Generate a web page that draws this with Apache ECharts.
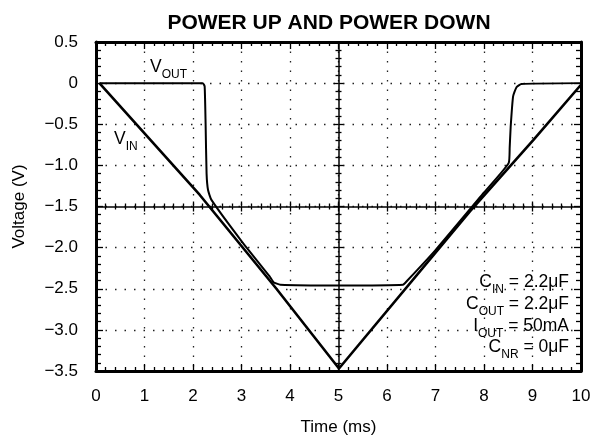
<!DOCTYPE html>
<html>
<head>
<meta charset="utf-8">
<script src="https://cdn.jsdelivr.net/npm/echarts@6/dist/echarts.min.js"></script>
<style>
  html, body { margin: 0; padding: 0; background: #fff; }
  #chart { width: 595px; height: 437px; }
</style>
</head>
<body>
<div id="chart"></div>
<script>
// data
var xTicks = [0, 1, 2, 3, 4, 5, 6, 7, 8, 9, 10];
var yTicks = [0.5, 0, -0.5, -1.0, -1.5, -2.0, -2.5, -3.0, -3.5];

var vinTime = [0.07, 2.14, 3.72, 5.01, 7.71, 9.02, 10.0];
var vinVolt = [0, -1.36, -2.5, -3.47, -1.56, -0.69, -0.02];

var voutTime = [0.07, 2.2, 2.24, 2.26, 2.28, 2.31, 2.38, 3.0, 3.58, 3.66, 3.8, 5.0, 6.33, 6.42, 7.0, 8.0, 8.51, 8.53, 8.55, 8.6, 8.67, 8.77, 10.0];
var voutVolt = [0, 0, -0.04, -0.5, -1.1, -1.3, -1.42, -1.92, -2.35, -2.42, -2.45, -2.46, -2.45, -2.4, -2.03, -1.33, -0.97, -0.78, -0.53, -0.16, -0.05, -0.01, 0];

var notes = [
  ['C', 'IN', ' = 2.2\u03bcF'],
  ['C', 'OUT', ' = 2.2\u03bcF'],
  ['I', 'OUT', ' = 50mA'],
  ['C', 'NR', ' = 0\u03bcF']
];

function pairs(xs, ys) {
  return xs.map(function (x, i) { return [x, ys[i]]; });
}

var FONT = '"Liberation Sans", Arial, Helvetica, sans-serif';
var dotted = { color: '#222', width: 1.3, type: [1.5, 8] };

function yFmt(v) {
  if (Math.abs(v) < 1e-9) return '0';
  return v.toFixed(1).replace('-', '\u2212');
}

// x axes: bottom (labels), top edge, and the centre line (ticks both ways)
function xAx(extra) {
  return Object.assign({
    type: 'value', min: 0, max: 10, interval: 1,
    axisLine: { show: true, onZero: false, lineStyle: { color: '#000', width: 3 } },
    axisTick: { show: true, inside: true, length: 7, lineStyle: { color: '#000', width: 1.3 } },
    minorTick: { show: true, splitNumber: 5, length: 4, lineStyle: { color: '#000', width: 1.3 } },
    axisLabel: { show: false },
    splitLine: { show: false }
  }, extra);
}
function yAx(extra) {
  return Object.assign({
    type: 'value', min: -3.5, max: 0.5, interval: 0.5,
    axisLine: { show: true, onZero: false, lineStyle: { color: '#000', width: 3 } },
    axisTick: { show: true, inside: true, length: 7, lineStyle: { color: '#000', width: 1.3 } },
    minorTick: { show: true, splitNumber: 5, length: 5, lineStyle: { color: '#000', width: 1.3 } },
    axisLabel: { show: false },
    splitLine: { show: false }
  }, extra);
}

var chart = echarts.init(document.getElementById('chart'));
var GRID = { left: 96, right: 14, top: 42, bottom: 66 };
var midX = (595 - GRID.left - GRID.right) / 2;
var midY = (437 - GRID.top - GRID.bottom) / 2;

var subRich = {
  m: { fontSize: 17.5, fontFamily: FONT },
  s: { fontSize: 12, fontFamily: FONT, padding: [15, 0, 0, 0] }
};

var graphics = [
  {
    type: 'text', x: 329, y: 13,
    style: { text: 'POWER UP AND POWER DOWN', font: 'bold 21px ' + FONT, fill: '#000', textAlign: 'center', textVerticalAlign: 'top' }
  },
  {
    type: 'text', x: 150, y: 54,
    style: { text: '{m|V}{s|OUT}', fill: '#000', textVerticalAlign: 'top', rich: subRich }
  },
  {
    type: 'text', x: 114, y: 126,
    style: { text: '{m|V}{s|IN}', fill: '#000', textVerticalAlign: 'top', rich: subRich }
  }
];
notes.forEach(function (n, i) {
  graphics.push({
    type: 'text', x: 569, y: 269 + i * 21.7,
    style: {
      text: '{m|' + n[0] + '}{s|' + n[1] + '}{m|' + n[2] + '}', fill: '#000',
      textAlign: 'right', textVerticalAlign: 'top', rich: subRich
    }
  });
});

var option = {
  animation: false,
  textStyle: { fontFamily: FONT, color: '#000' },
  grid: {
    left: GRID.left, right: GRID.right, top: GRID.top, bottom: GRID.bottom,
    containLabel: false, outerBoundsMode: 'none'
  },
  xAxis: [
    xAx({
      position: 'bottom',
      name: 'Time (ms)', nameLocation: 'middle', nameGap: 48,
      nameTextStyle: { fontSize: 17, fontFamily: FONT, color: '#000' },
      axisLabel: { show: true, fontSize: 17, margin: 17, color: '#000', fontFamily: FONT },
      splitLine: { show: true, lineStyle: dotted }
    }),
    xAx({ position: 'top' }),
    xAx({ position: 'bottom', offset: -midY, axisLine: { show: true, onZero: false, lineStyle: { color: '#000', width: 1.5 } },
      axisTick: { show: true, inside: true, length: 5, lineStyle: { color: '#000', width: 1.3 } },
      minorTick: { show: true, splitNumber: 5, length: 3, lineStyle: { color: '#000', width: 1.3 } } }),
    xAx({ position: 'bottom', offset: -midY, axisLine: { show: false },
      axisTick: { show: true, inside: false, length: 5, lineStyle: { color: '#000', width: 1.3 } },
      minorTick: { show: true, splitNumber: 5, length: 3, lineStyle: { color: '#000', width: 1.3 } } })
  ],
  yAxis: [
    yAx({
      position: 'left',
      name: 'Voltage (V)', nameLocation: 'middle', nameGap: 68, nameRotate: 90,
      nameTextStyle: { fontSize: 17, fontFamily: FONT, color: '#000' },
      axisLabel: { show: true, fontSize: 17, margin: 18, color: '#000', fontFamily: FONT, formatter: yFmt },
      splitLine: { show: true, lineStyle: dotted }
    }),
    yAx({ position: 'right' }),
    yAx({ position: 'left', offset: -midX, axisLine: { show: true, onZero: false, lineStyle: { color: '#000', width: 1.5 } },
      axisTick: { show: true, inside: true, length: 5, lineStyle: { color: '#000', width: 1.3 } },
      minorTick: { show: true, splitNumber: 5, length: 3, lineStyle: { color: '#000', width: 1.3 } } }),
    yAx({ position: 'left', offset: -midX, axisLine: { show: false },
      axisTick: { show: true, inside: false, length: 5, lineStyle: { color: '#000', width: 1.3 } },
      minorTick: { show: true, splitNumber: 5, length: 3, lineStyle: { color: '#000', width: 1.3 } } })
  ],
  series: [
    {
      name: 'VIN', type: 'line', xAxisIndex: 0, yAxisIndex: 0,
      data: pairs(vinTime, vinVolt), showSymbol: false, symbol: 'none',
      lineStyle: { color: '#000', width: 2.6 }, z: 5
    },
    {
      name: 'VOUT', type: 'line', xAxisIndex: 0, yAxisIndex: 0,
      data: pairs(voutTime, voutVolt), showSymbol: false, symbol: 'none',
      smooth: 0.15,
      lineStyle: { color: '#000', width: 2 }, z: 6
    }
  ],
  graphic: graphics
};

chart.setOption(option);
window.addEventListener('resize', function () {
  chart.resize();
});
</script>
</body>
</html>
